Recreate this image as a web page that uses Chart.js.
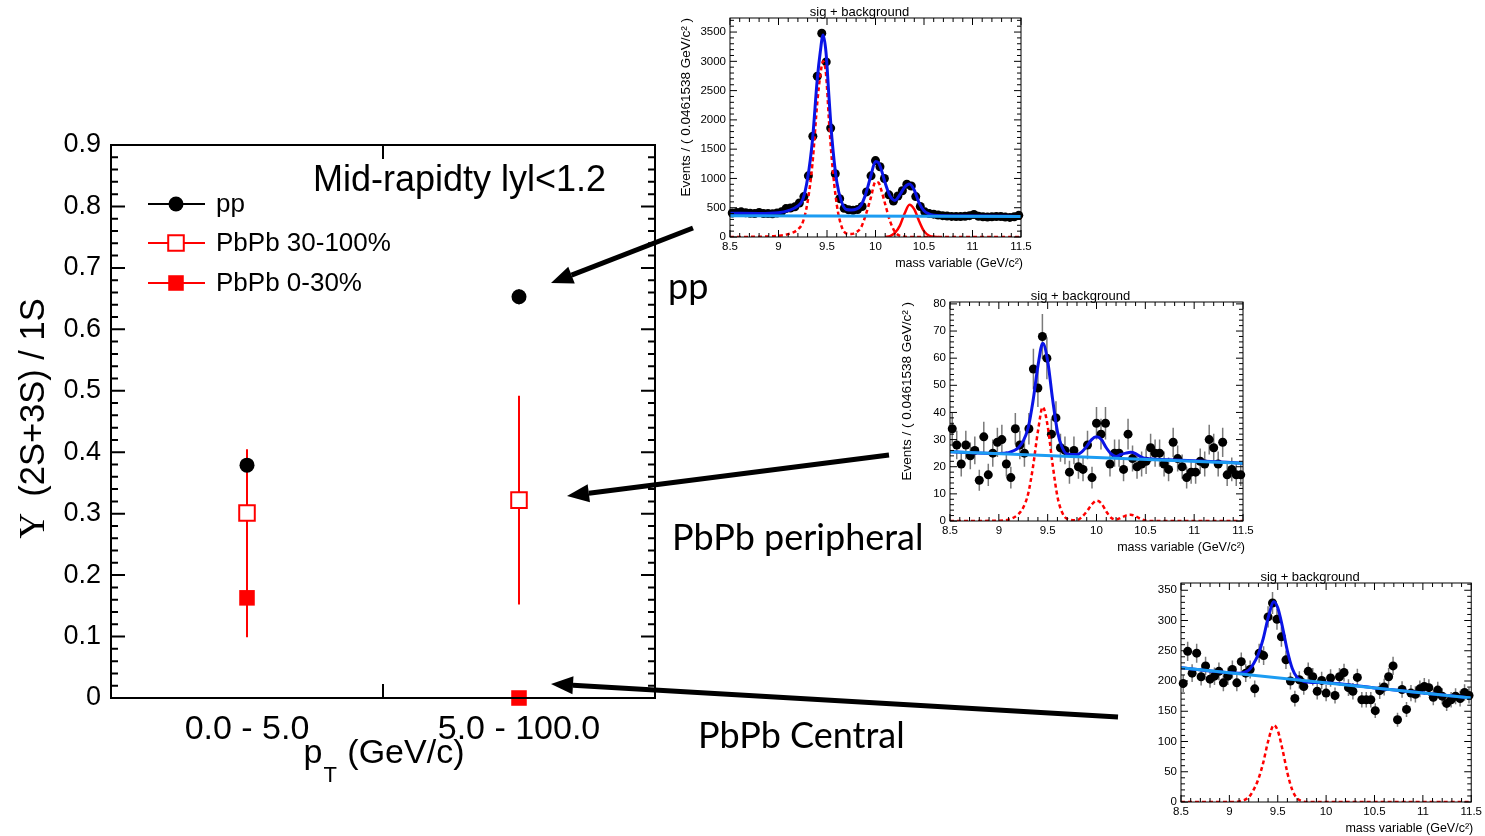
<!DOCTYPE html>
<html>
<head>
<meta charset="utf-8">
<script src="https://cdn.jsdelivr.net/npm/chart.js@4.4.1/dist/chart.umd.min.js"></script>
<style>
  html, body { margin: 0; padding: 0; background: #fff; }
  #page { position: relative; width: 1485px; height: 836px; overflow: hidden; }
  canvas { position: absolute; }
</style>
</head>
<body>
<div id="page">
  <canvas id="ratioChart" width="1485" height="836" style="left:0;top:0"></canvas>
  <canvas id="ppFit" width="370" height="275" style="left:670px;top:0"></canvas>
  <canvas id="periphFit" width="370" height="275" style="left:890px;top:285px"></canvas>
  <canvas id="centralFit" width="364" height="270" style="left:1121px;top:566px"></canvas>
</div>
<script>
// ratio plot
const ptBins = ["0.0 - 5.0", "5.0 - 100.0"];
const ppRatio = [0.379, 0.653];
const ppErr = [0.004, 0.012];
const periphRatio = [0.301, 0.322];
const periphErr = [0.104, 0.170];
const centralRatio = [0.163, 0.0];
const centralErr = [0.064, 0.0];

// invariant mass histograms (bin centres, GeV/c^2)
const massBins = [8.523, 8.569, 8.615, 8.662, 8.708, 8.754, 8.800, 8.846, 8.892, 8.938,
  8.985, 9.031, 9.077, 9.123, 9.169, 9.215, 9.262, 9.308, 9.354, 9.400,
  9.446, 9.492, 9.538, 9.585, 9.631, 9.677, 9.723, 9.769, 9.815, 9.862,
  9.908, 9.954, 10.000, 10.046, 10.092, 10.138, 10.185, 10.231, 10.277, 10.323,
  10.369, 10.415, 10.462, 10.508, 10.554, 10.600, 10.646, 10.692, 10.738, 10.785,
  10.831, 10.877, 10.923, 10.969, 11.015, 11.062, 11.108, 11.154, 11.200, 11.246,
  11.292, 11.338, 11.385, 11.431, 11.477];

const ppCounts = [410, 420, 430, 415, 405, 400, 420, 400, 400, 395,
  410, 430, 485, 495, 515, 580, 690, 1045, 1720, 2745,
  3480, 2990, 1860, 1080, 655, 490, 465, 455, 470, 520,
  770, 1045, 1305, 1200, 1000, 720, 615, 700, 790, 900,
  870, 690, 520, 430, 400, 390, 375, 365, 358, 352,
  348, 350, 355, 365, 385, 355, 345, 340, 345, 350,
  350, 340, 335, 345, 370];
const periphCounts = [34, 28, 21, 28, 24, 26, 15, 31, 17, 25,
  29, 30, 21, 16, 34, 28, 25, 34, 56, 49,
  68, 60, 32, 38, 27, 26, 18, 26, 20, 19,
  28, 16, 36, 32, 36, 21, 25, 25, 19, 32,
  23, 20, 21, 22, 27, 25, 25, 21, 19, 29,
  23, 20, 16, 18, 18, 22, 21, 30, 27, 21,
  29, 17, 19, 17, 17];
const centralCounts = [196, 249, 213, 246, 207, 225, 203, 208, 216, 197,
  208, 219, 197, 232, 213, 219, 187, 246, 242, 306,
  329, 302, 273, 235, 200, 171, 202, 191, 216, 207,
  183, 201, 180, 205, 176, 207, 214, 189, 183, 206,
  169, 169, 169, 151, 184, 190, 207, 225, 136, 186,
  153, 180, 178, 187, 191, 189, 173, 185, 175, 163,
  169, 175, 171, 181, 176];

// fit curves
const ppFitMass = [8.5, 8.8, 9.0, 9.1, 9.2, 9.25, 9.3, 9.35, 9.4, 9.43, 9.46, 9.49, 9.52, 9.55, 9.6, 9.65, 9.7, 9.75, 9.8, 9.85,
  9.9, 9.95, 10.0, 10.03, 10.06, 10.1, 10.15, 10.2, 10.25, 10.3, 10.35, 10.4, 10.45, 10.5, 10.55, 10.6, 10.7, 11.0, 11.5];
const ppTotal = [405, 402, 415, 450, 530, 640, 1000, 1650, 2700, 3150, 3450, 3150, 2400, 1700, 950, 600, 470, 462, 475, 540,
  740, 1030, 1290, 1270, 1150, 920, 700, 625, 720, 850, 905, 800, 580, 450, 395, 372, 362, 357, 352];
const ppSigMass = [8.5, 8.8, 9.0, 9.1, 9.2, 9.25, 9.3, 9.35, 9.4, 9.43, 9.46, 9.49, 9.52, 9.55, 9.6, 9.65, 9.7, 9.75, 9.8, 9.85,
  9.9, 9.95, 10.0, 10.03, 10.06, 10.1, 10.15, 10.2, 10.25, 10.3, 10.4, 11.5];
const ppSig12 = [0, 5, 20, 50, 130, 250, 600, 1250, 2300, 2750, 3000, 2780, 2000, 1320, 560, 180, 60, 50, 80, 160,
  380, 660, 940, 930, 800, 560, 270, 90, 20, 5, 0, 0];
const pp3SMass = [10.1, 10.15, 10.2, 10.25, 10.3, 10.35, 10.4, 10.45, 10.5, 10.55, 10.6, 10.65];
const ppSig3 = [0, 15, 70, 190, 400, 550, 470, 270, 100, 25, 3, 0];
const ppBkgMass = [8.5, 11.5];
const ppBkg = [362, 352];

const periphFitMass = [8.5, 9.0, 9.1, 9.2, 9.25, 9.3, 9.35, 9.4, 9.45, 9.5, 9.55, 9.6, 9.65, 9.7, 9.8, 9.85,
  9.9, 9.95, 10.0, 10.05, 10.1, 10.15, 10.2, 10.25, 10.3, 10.35, 10.4, 10.45, 10.5, 10.6, 11.0, 11.5];
const periphTotal = [25.5, 24.9, 25.2, 27, 29.5, 34.3, 44.2, 57, 65.5, 59, 45, 33, 27, 24.7, 24.5, 25.5,
  27.5, 30, 31, 30, 27, 24.7, 23.8, 24.5, 25, 25.3, 24.8, 23.7, 23, 22.8, 22.2, 21.3];
const periphSig = [0, 0.1, 0.5, 2.5, 5, 10, 20, 33, 42, 35, 21, 9, 3, 0.8, 0.3, 1.5,
  3.5, 6, 7.5, 6.5, 3.5, 1.2, 0.5, 1.2, 2, 2.3, 1.8, 0.8, 0.2, 0, 0, 0];
const periphBkgMass = [8.5, 11.5];
const periphBkg = [25.5, 21.3];

const centralFitMass = [8.5, 9.0, 9.1, 9.2, 9.25, 9.3, 9.35, 9.4, 9.46, 9.5, 9.55, 9.6, 9.65, 9.7, 9.75, 9.8, 10.0, 10.5, 11.0, 11.5];
const centralTotal = [222, 213.6, 213, 218, 228.5, 244.6, 270, 304, 331, 321, 288.5, 249.6, 220.8, 206, 200.6, 198.3, 197, 188.6, 180, 172];
const centralSig = [0, 0, 1, 8, 20, 38, 65, 100, 127, 118, 86, 48, 20, 6, 1.5, 0, 0, 0, 0, 0];
const centralBkgMass = [8.5, 11.5];
const centralBkg = [222, 172];

const SANS = "'Liberation Sans', Arial, Helvetica, sans-serif";
Chart.defaults.font.family = SANS;
Chart.defaults.color = "#000";
Chart.defaults.animation = false;

const pairs = (xs, ys) => xs.map((x, i) => ({ x: x, y: ys[i] }));

function tickSteps(min, max, minor, major) {
  const out = [];
  const ratio = Math.round(major / minor);
  for (let k = 0; min + k * minor <= max + 1e-9; k++) out.push([min + k * minor, k % ratio === 0]);
  return out;
}

// ROOT style frame with inward ticks on all four sides
const rootAxes = {
  id: "rootAxes",
  afterDatasetsDraw(chart, args, o) {
    const { ctx, chartArea: a, scales: { x, y } } = chart;
    ctx.save();
    ctx.strokeStyle = "#000";
    ctx.lineWidth = o.tickWidth;
    ctx.beginPath();
    tickSteps(y.min, y.max, o.yMinor, o.yMajor).forEach(([v, major]) => {
      const p = y.getPixelForValue(v), len = major ? o.major : o.minor;
      ctx.moveTo(a.left, p); ctx.lineTo(a.left + len, p);
      ctx.moveTo(a.right, p); ctx.lineTo(a.right - len, p);
    });
    const xs = o.xAt ? o.xAt.map(v => [v, true]) : tickSteps(x.min, x.max, o.xMinor, o.xMajor);
    xs.forEach(([v, major]) => {
      const p = x.getPixelForValue(v), len = major ? o.major : o.minor;
      ctx.moveTo(p, a.bottom); ctx.lineTo(p, a.bottom - len);
      ctx.moveTo(p, a.top); ctx.lineTo(p, a.top + len);
    });
    ctx.stroke();
    ctx.lineWidth = o.frameWidth;
    ctx.strokeRect(a.left, a.top, a.right - a.left, a.bottom - a.top);
    ctx.restore();
  }
};

const errorBars = {
  id: "errorBars",
  beforeDatasetsDraw(chart) {
    const { ctx, scales: { y } } = chart;
    ctx.save();
    chart.data.datasets.forEach((ds, i) => {
      if (!ds.errors && !ds.poisson) return;
      const meta = chart.getDatasetMeta(i);
      ctx.strokeStyle = ds.errorColor || ds.borderColor;
      ctx.lineWidth = ds.errorWidth || 2;
      ctx.beginPath();
      meta.data.forEach((pt, j) => {
        const raw = ds.data[j];
        const v = typeof raw === "object" ? raw.y : raw;
        const e = ds.poisson ? Math.sqrt(v) : ds.errors[j];
        if (!e) return;
        ctx.moveTo(pt.x, y.getPixelForValue(v - e));
        ctx.lineTo(pt.x, y.getPixelForValue(v + e));
      });
      ctx.stroke();
    });
    ctx.restore();
  }
};

function drawArrow(ctx, x1, y1, x2, y2) {
  const ang = Math.atan2(y2 - y1, x2 - x1);
  const head = 22, half = 9;
  const bx = x2 - head * Math.cos(ang), by = y2 - head * Math.sin(ang);
  ctx.lineWidth = 5;
  ctx.beginPath();
  ctx.moveTo(x1, y1);
  ctx.lineTo(bx, by);
  ctx.stroke();
  ctx.beginPath();
  ctx.moveTo(x2, y2);
  ctx.lineTo(bx - half * Math.sin(ang), by + half * Math.cos(ang));
  ctx.lineTo(bx + half * Math.sin(ang), by - half * Math.cos(ang));
  ctx.closePath();
  ctx.fill();
}

// titles, legend, annotation text and arrows of the ratio plot
const ratioDecor = {
  id: "ratioDecor",
  afterDraw(chart) {
    const { ctx, chartArea: a } = chart;
    ctx.save();
    ctx.fillStyle = "#000";
    ctx.strokeStyle = "#000";

    // y title
    ctx.save();
    ctx.translate(32, (a.top + a.bottom) / 2 - 3);
    ctx.rotate(-Math.PI / 2);
    ctx.textBaseline = "alphabetic";
    ctx.font = "36px 'Liberation Serif', 'Times New Roman', serif";
    const upsW = ctx.measureText("\u03A5").width;
    ctx.font = "34.5px " + SANS;
    const rest = "(2S+3S) / 1S";
    const restW = ctx.measureText(rest).width;
    const gap = 16;
    let sx = -(upsW + gap + restW) / 2;
    ctx.font = "36px 'Liberation Serif', 'Times New Roman', serif";
    ctx.fillText("\u03A5", sx, 12);
    ctx.font = "34.5px " + SANS;
    ctx.fillText(rest, sx + upsW + gap, 12);
    ctx.restore();

    // x title with subscript
    ctx.textBaseline = "alphabetic";
    ctx.font = "34px " + SANS;
    const pW = ctx.measureText("p").width;
    const tail = " (GeV/c)";
    const tailW = ctx.measureText(tail).width;
    ctx.font = "22px " + SANS;
    const tW = ctx.measureText("T").width;
    let tx = (a.left + a.right) / 2 - (pW + tW + tailW) / 2;
    ctx.font = "34px " + SANS;
    ctx.fillText("p", tx, 763);
    ctx.font = "22px " + SANS;
    ctx.fillText("T", tx + pW + 1, 782);
    ctx.font = "34px " + SANS;
    ctx.fillText(tail, tx + pW + tW + 2, 763);

    // rapidity label
    ctx.font = "36px " + SANS;
    ctx.textBaseline = "middle";
    ctx.fillText("Mid-rapidty lyl<1.2", 313, 181);

    // legend
    const rows = [204, 243, 283];
    ctx.font = "26px " + SANS;
    chart.data.datasets.forEach((ds, i) => {
      const yy = rows[i];
      ctx.strokeStyle = ds.borderColor;
      ctx.lineWidth = 2;
      ctx.beginPath();
      ctx.moveTo(148, yy);
      ctx.lineTo(205, yy);
      ctx.stroke();
      ctx.fillStyle = ds.backgroundColor;
      ctx.strokeStyle = ds.borderColor;
      ctx.lineWidth = ds.pointBorderWidth || 0;
      Chart.helpers.drawPoint(ctx, { pointStyle: ds.pointStyle, radius: ds.pointRadius, borderWidth: ds.pointBorderWidth || 0, rotation: 0 }, 176, yy);
      ctx.fillStyle = "#000";
      ctx.fillText(ds.label, 216, yy + 1);
    });

    // panel labels
    ctx.font = "36px Lato, 'Open Sans', sans-serif";
    ctx.fillStyle = "#000";
    ctx.fillText("pp", 668, 287);
    ctx.fillText("PbPb peripheral", 672, 538);
    ctx.fillText("PbPb Central", 698, 736);

    // arrows from the fit panels to the points
    ctx.fillStyle = "#000";
    ctx.strokeStyle = "#000";
    drawArrow(ctx, 693, 228, 551, 283);
    drawArrow(ctx, 889, 455, 567, 496);
    drawArrow(ctx, 1118, 717, 551, 684);
    ctx.restore();
  }
};

new Chart(document.getElementById("ratioChart"), {
  type: "line",
  data: {
    labels: ptBins,
    datasets: [
      { label: "pp", data: ppRatio, errors: ppErr, showLine: false, clip: false,
        pointStyle: "circle", pointRadius: 7.5, pointBorderWidth: 0,
        backgroundColor: "#000", borderColor: "#000" },
      { label: "PbPb 30-100%", data: periphRatio, errors: periphErr, showLine: false, clip: false,
        pointStyle: "rect", pointRadius: 11, pointBorderWidth: 2,
        backgroundColor: "#fff", borderColor: "#ff0000" },
      { label: "PbPb 0-30%", data: centralRatio, errors: centralErr, showLine: false, clip: false,
        pointStyle: "rect", pointRadius: 11, pointBorderWidth: 0,
        backgroundColor: "#ff0000", borderColor: "#ff0000" }
    ]
  },
  options: {
    responsive: false,
    devicePixelRatio: 1,
    layout: { padding: { left: 0, top: 145, right: 830, bottom: 0 } },
    plugins: {
      legend: { display: false },
      tooltip: { enabled: false },
      rootAxes: { yMajor: 0.1, yMinor: 0.02, xAt: [0.5], major: 14, minor: 7, tickWidth: 2, frameWidth: 2 }
    },
    scales: {
      x: {
        offset: true,
        grid: { display: false, drawTicks: false },
        border: { display: false },
        ticks: { font: { size: 34 }, padding: 11, autoSkip: false, maxRotation: 0, color: "#000" },
        afterFit: (s) => { s.height = 138; }
      },
      y: {
        min: 0, max: 0.9,
        grid: { display: false, drawTicks: false },
        border: { display: false },
        ticks: { stepSize: 0.1, font: { size: 27 }, padding: 10, color: "#000",
          callback: (v) => (Math.abs(v) < 1e-9 ? "0" : Number(v).toFixed(1)) },
        afterFit: (s) => { s.width = 111; }
      }
    }
  },
  plugins: [errorBars, rootAxes, ratioDecor]
});

// titles of the small fit panels
const fitDecor = {
  id: "fitDecor",
  afterDraw(chart, args, o) {
    const { ctx, chartArea: a } = chart;
    ctx.save();
    ctx.fillStyle = "#000";
    ctx.font = "13px " + SANS;
    ctx.textAlign = "center";
    ctx.textBaseline = "alphabetic";
    ctx.fillText("sig + background", (a.left + a.right) / 2 - 16, a.top - 2);
    ctx.font = "12.5px " + SANS;
    ctx.textAlign = "right";
    ctx.fillText("mass variable (GeV/c\u00B2)", a.right + 2, a.bottom + 30);
    if (o.yTitle) {
      ctx.translate(o.yTitleX, a.top);
      ctx.rotate(-Math.PI / 2);
      ctx.font = "13.5px " + SANS;
      ctx.textAlign = "right";
      ctx.textBaseline = "middle";
      ctx.fillText("Events / ( 0.0461538 GeV/c\u00B2 )", 0, 0);
    }
    ctx.restore();
  }
};

function fitChart(id, o) {
  const datasets = [
    { data: pairs(o.bkgMass, o.bkg), showLine: true, borderColor: "#1c9cf2", borderWidth: 3, pointRadius: 0 },
    { data: pairs(o.fitMass, o.total), showLine: true, borderColor: "#0a14e6", borderWidth: 3, pointRadius: 0,
      cubicInterpolationMode: "monotone" }
  ];
  if (o.sig3) {
    datasets.push({ data: pairs(o.sig3Mass, o.sig3), showLine: true, borderColor: "#ff0000", borderWidth: 2.5,
      pointRadius: 0, cubicInterpolationMode: "monotone" });
  }
  datasets.push({ data: pairs(o.sigMass, o.sig), showLine: true, borderColor: "#ff0000", borderWidth: 2.5,
    borderDash: [4, 3], pointRadius: 0, cubicInterpolationMode: "monotone" });
  datasets.push({ data: pairs(massBins, o.counts), showLine: false, pointRadius: o.dot, pointBorderWidth: 0,
    backgroundColor: "#000", borderColor: "#000", poisson: true, errorColor: o.errColor, errorWidth: 1.5, clip: false });

  return new Chart(document.getElementById(id), {
    type: "scatter",
    data: { datasets: datasets },
    options: {
      responsive: false,
      devicePixelRatio: 1,
      layout: { padding: { left: 0, top: o.padTop, right: o.padRight, bottom: 0 } },
      plugins: {
        legend: { display: false },
        tooltip: { enabled: false },
        rootAxes: { xMajor: 0.5, xMinor: 0.1, yMajor: o.yStep, yMinor: o.yMinor, major: 7, minor: 4, tickWidth: 1, frameWidth: 1 },
        fitDecor: { yTitle: o.yTitle, yTitleX: o.yTitleX }
      },
      scales: {
        x: {
          type: "linear", min: 8.5, max: 11.5,
          grid: { display: false, drawTicks: false },
          border: { display: false },
          ticks: { font: { size: 11.5 }, padding: 3, color: "#000", autoSkip: false,
            callback: (v) => String(Number(Number(v).toFixed(1))) },
          afterBuildTicks: (s) => { s.ticks = tickSteps(8.5, 11.5, 0.5, 0.5).map(([v]) => ({ value: v })); },
          afterFit: (s) => { s.height = o.xH; }
        },
        y: {
          min: 0, max: o.yMax,
          grid: { display: false, drawTicks: false },
          border: { display: false },
          ticks: { font: { size: 11.5 }, padding: 4, color: "#000", autoSkip: false,
            callback: (v) => String(Math.round(v)) },
          afterBuildTicks: (s) => { s.ticks = tickSteps(0, o.yMax, o.yStep, o.yStep).map(([v]) => ({ value: v })); },
          afterFit: (s) => { s.width = 60; }
        }
      }
    },
    plugins: [errorBars, rootAxes, fitDecor]
  });
}

fitChart("ppFit", {
  counts: ppCounts, fitMass: ppFitMass, total: ppTotal, sigMass: ppSigMass, sig: ppSig12,
  sig3Mass: pp3SMass, sig3: ppSig3, bkgMass: ppBkgMass, bkg: ppBkg,
  yMax: 3740, yStep: 500, yMinor: 100, padTop: 18, padRight: 19, xH: 38,
  dot: 4.5, errColor: "#000", yTitle: true, yTitleX: 16
});
fitChart("periphFit", {
  counts: periphCounts, fitMass: periphFitMass, total: periphTotal, sigMass: periphFitMass, sig: periphSig,
  bkgMass: periphBkgMass, bkg: periphBkg,
  yMax: 80.7, yStep: 10, yMinor: 2, padTop: 17, padRight: 17, xH: 39,
  dot: 4.5, errColor: "#7a7a7a", yTitle: true, yTitleX: 17
});
fitChart("centralFit", {
  counts: centralCounts, fitMass: centralFitMass, total: centralTotal, sigMass: centralFitMass, sig: centralSig,
  bkgMass: centralBkgMass, bkg: centralBkg,
  yMax: 362, yStep: 50, yMinor: 10, padTop: 17, padRight: 13, xH: 34,
  dot: 4.5, errColor: "#7a7a7a", yTitle: false
});
</script>
</body>
</html>
